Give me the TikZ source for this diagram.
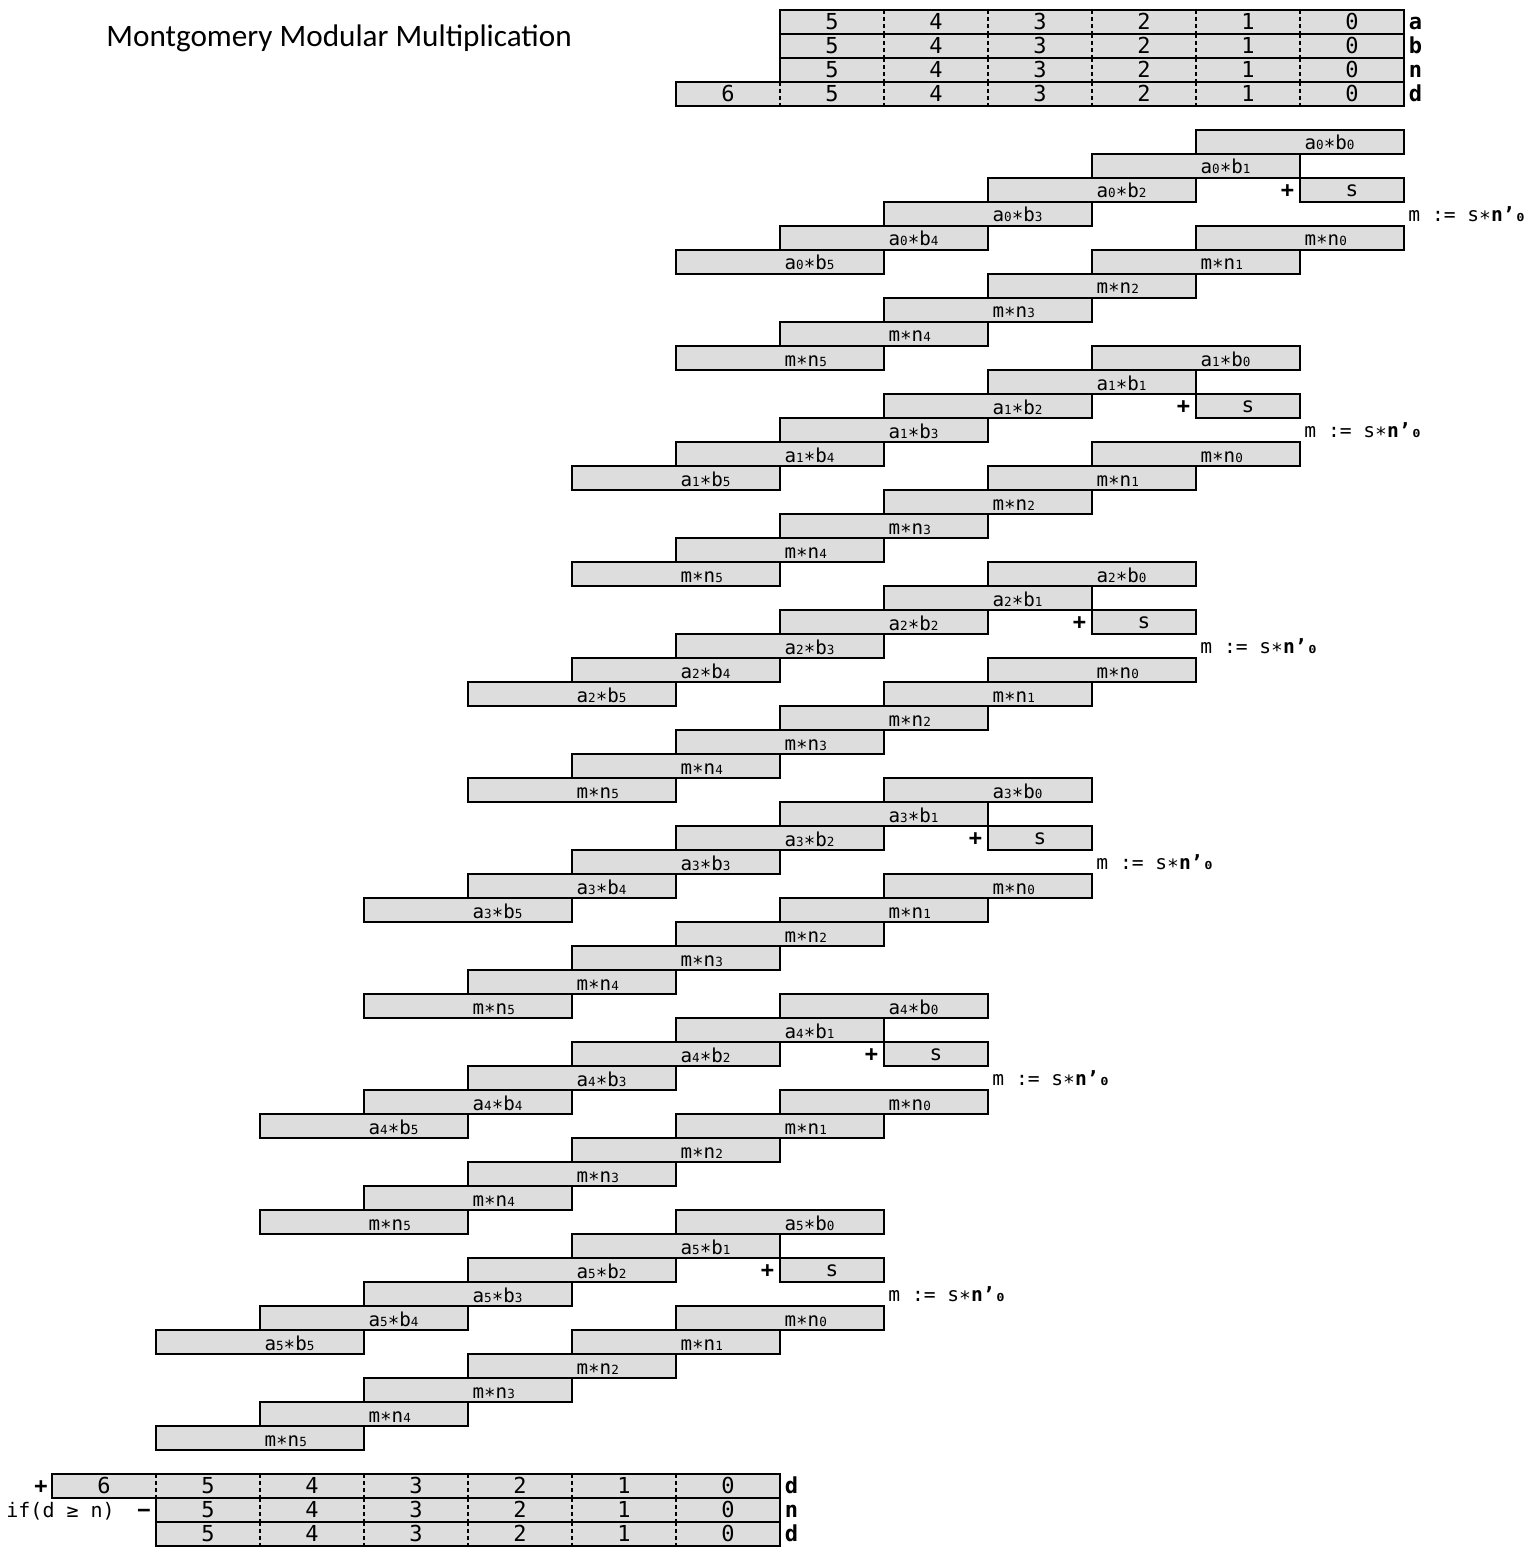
\documentclass[tikz,border=0pt]{standalone}
\usepackage{fontspec}
\setmainfont{Carlito}
\newfontfamily\monof{DejaVu Sans Mono}
\definecolor{cellgray}{RGB}{221,221,221}
\newcommand\plab[1]{\makebox[104pt][l]{\hspace{54.3pt}#1}}
\newcommand\sbd[1]{{\fontsize{6.3}{7}\selectfont #1}}
\tikzset{
  frame/.style={line width=1pt},
  sepline/.style={line width=1pt, dash pattern=on 2pt off 1.5pt},
  digittext/.style={font=\monof\fontsize{11}{13}\selectfont, text height=7.8pt, text depth=0.5pt},
  prodtext/.style={font=\monof\fontsize{9.6}{11}\selectfont, text height=8.3pt, text depth=0.3pt},
  cell/.style={rectangle, fill=cellgray, minimum width=52pt, minimum height=12pt, inner sep=0pt, digittext},
  prod/.style={rectangle, draw, line width=1pt, fill=cellgray, minimum width=104pt, minimum height=12pt, inner sep=0pt, prodtext},
  sbox/.style={rectangle, draw, line width=1pt, fill=cellgray, minimum width=52pt, minimum height=12pt, inner sep=0pt,
    font=\monof\fontsize{10.5}{12}\selectfont, text height=7.2pt, text depth=0.5pt},
  lbl/.style={anchor=west, inner sep=0pt, font=\monof\bfseries\fontsize{11}{13}\selectfont, text height=7.8pt, text depth=0.5pt},
  mlab/.style={anchor=west, inner sep=0pt, font=\monof\fontsize{9.8}{12}\selectfont, text height=7.8pt, text depth=0.3pt},
  condtext/.style={anchor=west, inner sep=0pt, font=\monof\fontsize{10}{12}\selectfont, text height=7.5pt, text depth=0pt},
  sym/.style={inner sep=0pt, font=\monof\bfseries\fontsize{11}{13}\selectfont, text height=7.5pt, text depth=0pt},
}
\begin{document}
\begin{tikzpicture}[x=0.5pt,y=-0.5pt]
\useasboundingbox (0,0) rectangle (1532,1556);
% title
\node[anchor=base west, inner sep=0pt, font=\fontsize{15.6}{18}\selectfont] (title) at (106,47) {Montgomery Modular Multiplication};
% top registers a, b, n
\foreach \nm/\y in {a/22, b/46, n/70} {
  \foreach \k in {0,...,5} { \node[cell] (t\nm\k) at ({1352-104*\k},\y) {\k}; }
  \foreach \k in {1,...,5} { \draw[sepline] (t\nm\k.north east) -- (t\nm\k.south east); }
  \draw[frame] (t\nm5.north west) rectangle (t\nm0.south east);
  \node[lbl] (l\nm) at ([xshift=2pt]t\nm0.east) {\nm};
}
% top register d
\foreach \k in {0,...,6} { \node[cell] (td\k) at ({1352-104*\k},94) {\k}; }
\foreach \k in {1,...,6} { \draw[sepline] (td\k.north east) -- (td\k.south east); }
\draw[frame] (td6.north west) rectangle (td0.south east);
\node[lbl] (ld) at ([xshift=2pt]td0.east) {d};
% blocks
\foreach \i in {0,...,5} {
  \pgfmathsetmacro\R{1404-104*\i}
  \pgfmathsetmacro\T{130+216*\i}
  \foreach \j in {0,...,5} {
    \node[prod] (ab\i\j) at ({\R-104*(\j+1)},{\T+24*\j+12}) {\plab{a\sbd{\i}∗b\sbd{\j}}};
    \node[prod] (mn\i\j) at ({\R-104*(\j+1)},{\T+24*(\j+4)+12}) {\plab{m∗n\sbd{\j}}};
  }
  \node[sbox] (s\i) at ({\R-52},{\T+60}) {s};
  \node[sym] (plus\i) at ({\R-116.5},{\T+60}) {+};
  \node[mlab] (m\i) at ({\R+4},{\T+84}) {m := s∗\textbf{n’₀}};
}
% bottom registers
\foreach \k in {0,...,6} { \node[cell] (bd\k) at ({728-104*\k},1486) {\k}; }
\foreach \k in {1,...,6} { \draw[sepline] (bd\k.north east) -- (bd\k.south east); }
\draw[frame] (bd6.north west) rectangle (bd0.south east);
\node[lbl] (lbd) at ([xshift=2pt]bd0.east) {d};
\node[sym] (plusb) at (41,1486) {+};
\foreach \k in {0,...,5} { \node[cell] (bn\k) at ({728-104*\k},1510) {\k}; }
\foreach \k in {1,...,5} { \draw[sepline] (bn\k.north east) -- (bn\k.south east); }
\draw[frame] (bn5.north west) rectangle (bn0.south east);
\node[lbl] (lbn) at ([xshift=2pt]bn0.east) {n};
\node[sym] (minusb) at (144,1510) {−};
\node[condtext] (cond) at (6,1510) {if(d ≥ n)};
\foreach \k in {0,...,5} { \node[cell] (be\k) at ({728-104*\k},1534) {\k}; }
\foreach \k in {1,...,5} { \draw[sepline] (be\k.north east) -- (be\k.south east); }
\draw[frame] (be5.north west) rectangle (be0.south east);
\node[lbl] (lbe) at ([xshift=2pt]be0.east) {d};
\end{tikzpicture}
\end{document}
